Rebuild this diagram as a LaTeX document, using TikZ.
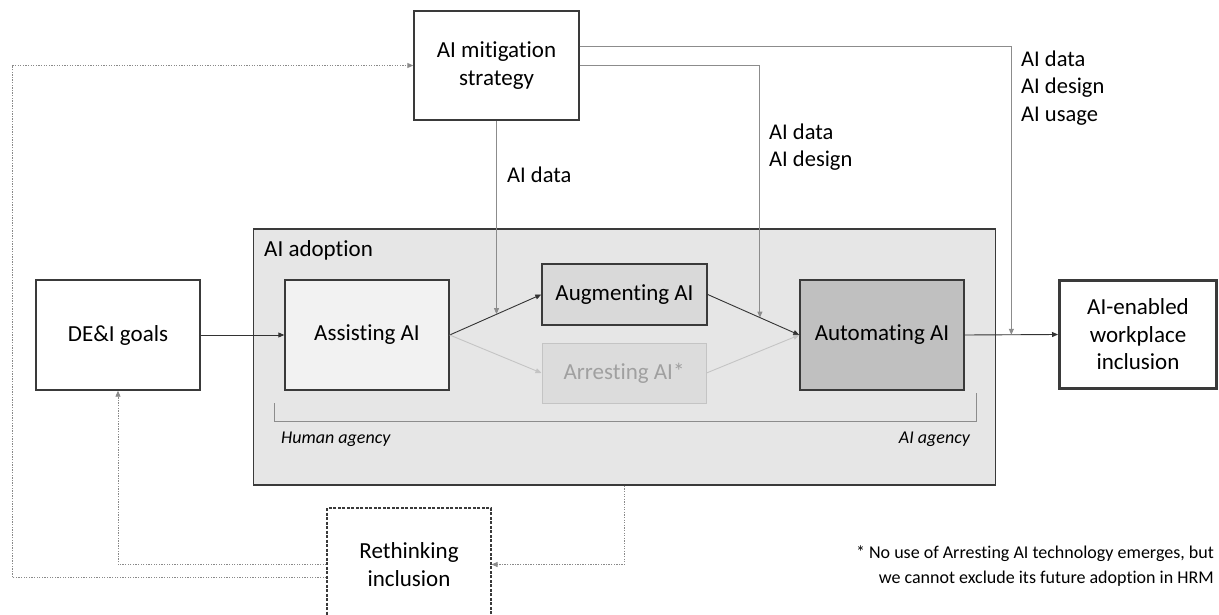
\documentclass[tikz,border=0pt]{standalone}
\usepackage{fontspec}
\setmainfont{Carlito}[Ligatures={NoCommon}]
\usetikzlibrary{arrows.meta,calc}
\definecolor{bdr}{HTML}{3A3A3A}
\definecolor{adoptfill}{HTML}{E6E6E6}
\definecolor{assistfill}{HTML}{F2F2F2}
\definecolor{augmfill}{HTML}{D9D9D9}
\definecolor{automfill}{HTML}{C0C0C0}
\definecolor{arrfill}{HTML}{DCDCDC}
\definecolor{arrbdr}{HTML}{C4C4C4}
\definecolor{arrtext}{HTML}{A0A0A0}
\definecolor{feedcol}{HTML}{8C8C8C}
\definecolor{dotcol}{HTML}{8A8A8A}
\newcommand{\fsbox}{\fontsize{23}{27.5}\selectfont}
\newcommand{\fslab}{\fontsize{22.5}{27.5}\selectfont}
\newcommand{\fsit}{\fontsize{18}{20}\selectfont\itshape}
\newcommand{\fsnote}{\fontsize{18}{24.5}\selectfont}
\begin{document}
\begin{tikzpicture}[x=1pt,y=-1pt,
  box/.style={draw=bdr, line width=1.4pt, inner sep=0pt, align=center, font=\fsbox},
  arr/.style={-{Triangle[length=6pt,width=5pt]}},
  mainline/.style={arr, draw=black!80, line width=0.9pt},
  lightline/.style={arr, draw=arrbdr, line width=0.9pt},
  feed/.style={arr, draw=feedcol, line width=0.9pt},
  dotline/.style={arr, draw=dotcol, line width=0.9pt, dash pattern=on 1.3pt off 1.3pt},
  lab/.style={font=\fslab, align=left, anchor=west, inner sep=0pt},
  brk/.style={draw=feedcol, line width=0.9pt}
]
\useasboundingbox (0,0) rectangle (1219,615);
\clip (0,0) rectangle (1219,615);
\fill[white] (0,0) rectangle (1219,615);

% AI adoption container
\node[draw=bdr, line width=1.4pt, fill=adoptfill, minimum width=742, minimum height=256, inner sep=0pt] (adopt) at (624.5,357) {};
\node[font=\fsbox, anchor=west, inner sep=0pt] (adoptlab) at (264,250) {AI adoption};

% boxes
\node[box, minimum width=165, minimum height=109] (mit) at (496.5,65.5) {AI mitigation\\strategy};
\node[box, minimum width=164, minimum height=110] (dei) at (118,335) {DE\&I goals};
\node[box, fill=assistfill, minimum width=164, minimum height=110] (assist) at (367,335) {Assisting AI};
\node[box, fill=augmfill, minimum width=165, minimum height=61] (augm) at (624.5,294.5) {Augmenting AI};
\node[box, fill=arrfill, draw=arrbdr, text=arrtext, line width=1pt, minimum width=164, minimum height=60] (arrest) at (624,373) {Arresting AI*};
\node[box, fill=automfill, minimum width=164, minimum height=110] (autom) at (882,335) {Automating AI};
\node[box, line width=3pt, minimum width=157, minimum height=108] (goal) at (1138,334.5) {AI-enabled\\workplace\\inclusion};
\node[box, line width=1.2pt, dash pattern=on 3pt off 1.5pt, minimum width=164, minimum height=113] (reth) at (409,564.5) {Rethinking\\inclusion};

% main flow
\draw[mainline] (dei.east) -- (assist.west);
\draw[mainline] (assist.east) -- (augm.west);
\draw[mainline] (augm.east) -- (autom.west);
\draw[lightline] (assist.east) -- (arrest.west);
\draw[lightline] (arrest.east) -- (autom.west);
\draw[mainline] (autom.east) -- (goal.west);

% mitigation inputs
\coordinate (p1) at ($(assist.east)!0.515!(augm.west)$);
\coordinate (p2) at ($(augm.east)!0.57!(autom.west)$);
\coordinate (p3) at ($(autom.east)!0.5!(goal.west)$);
\coordinate (m1) at ($(mit.north east)!0.33!(mit.south east)$);
\draw[feed] (mit.south) -- (mit.south |- p1);
\draw[feed] (mit.east) -| (p2);
\draw[feed] (m1) -| (p3);

\node[lab] (l1) at (507,175) {AI data};
\node[lab] (l2) at (769,147) {AI data\\AI design};
\node[lab] (l3) at (1021,88) {AI data\\AI design\\AI usage};

% agency bracket
\draw[brk] (274,403) -- (274,421) -- (976,421) -- (976,393);
\node[font=\fsit, anchor=west, inner sep=0pt] (human) at (281,439) {Human agency};
\node[font=\fsit, anchor=east, inner sep=0pt] (aiag) at (970,439) {AI agency};

% feedback loops
\draw[dotline] (adopt.south) |- (reth.east);
\draw[dotline] (reth.west) -| (dei.south);
\coordinate (r2) at ($(reth.west)+(0,13)$);
\coordinate (c1) at (12,577);
\draw[dotline] (r2) -- (r2 -| c1) |- (mit.west);

% footnote
\node[font=\fsnote, anchor=east, align=right, inner sep=0pt] (note) at (1214,566) {* No use of Arresting AI technology emerges, but\\we cannot exclude its future adoption in HRM};
\end{tikzpicture}
\end{document}
